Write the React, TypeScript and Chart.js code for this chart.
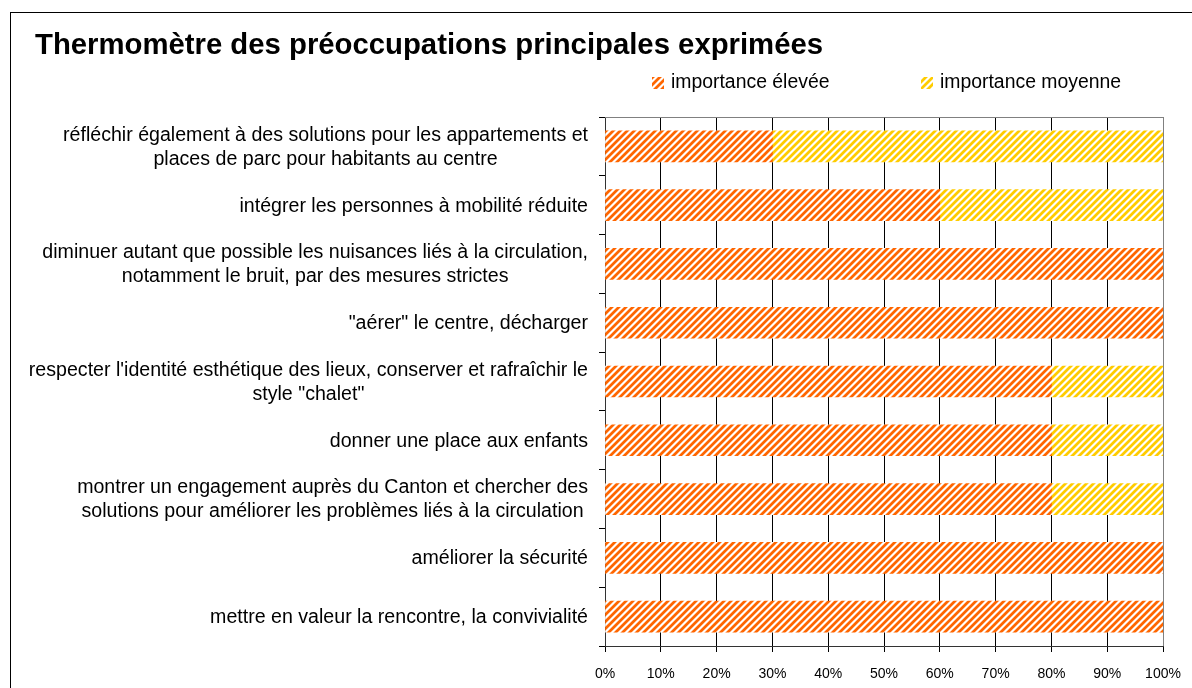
import React, { useEffect, useRef } from "react";
import { Chart, registerables } from "chart.js";

Chart.register(...registerables);

const titleText = "Thermomètre des préoccupations principales exprimées";

const categories: string[][] = [
  ["réfléchir également à des solutions pour les appartements et", "places de parc pour habitants au centre"],
  ["intégrer les personnes à mobilité réduite"],
  ["diminuer autant que possible les nuisances liés à la circulation,", "notamment le bruit, par des mesures strictes"],
  ["\"aérer\" le centre, décharger"],
  ["respecter l'identité esthétique des lieux, conserver et rafraîchir le", "style \"chalet\""],
  ["donner une place aux enfants"],
  ["montrer un engagement auprès du Canton et chercher des", "solutions pour améliorer les problèmes liés à la circulation"],
  ["améliorer la sécurité"],
  ["mettre en valeur la rencontre, la convivialité"],
];

const seriesNames = ["importance élevée", "importance moyenne"];
const highValues = [30, 60, 100, 100, 80, 80, 80, 100, 100];
const mediumValues = [70, 40, 0, 0, 20, 20, 20, 0, 0];
const xTickValues = [0, 10, 20, 30, 40, 50, 60, 70, 80, 90, 100];

const FONT = "'Liberation Sans', Arial, sans-serif";

function makePattern(fg: [number, number, number]): CanvasPattern | string {
  const size = 7;
  const c = document.createElement("canvas");
  c.width = size;
  c.height = size;
  const ctx = c.getContext("2d");
  if (!ctx) return `rgb(${fg.join(",")})`;
  const img = ctx.createImageData(size, size);
  for (let y = 0; y < size; y++) {
    for (let x = 0; x < size; x++) {
      const k = (x + y) % size;
      let t = 0;
      if (k <= 2) t = 1;
      else if (k === 3 || k === 6) t = 0.45;
      const i = (y * size + x) * 4;
      img.data[i] = Math.round(255 + (fg[0] - 255) * t);
      img.data[i + 1] = Math.round(255 + (fg[1] - 255) * t);
      img.data[i + 2] = Math.round(255 + (fg[2] - 255) * t);
      img.data[i + 3] = 255;
    }
  }
  ctx.putImageData(img, 0, 0);
  return ctx.createPattern(c, "repeat") || `rgb(${fg.join(",")})`;
}

export default function App() {
  const canvasRef = useRef<HTMLCanvasElement | null>(null);

  useEffect(() => {
    const canvas = canvasRef.current;
    if (!canvas) return;
    const orange = makePattern([255, 102, 0]);
    const yellow = makePattern([255, 204, 0]);
    const patterns = [orange, yellow];

    const decor = {
      id: "decor",
      afterDraw(chart: any) {
        const ctx = chart.ctx as CanvasRenderingContext2D;
        const area = chart.chartArea;
        const yScale = chart.scales.y;
        ctx.save();
        ctx.strokeStyle = "#000";
        ctx.lineWidth = 1;
        ctx.strokeRect(10.5, 12.5, 1300, 800);
        ctx.strokeStyle = "#808080";
        ctx.beginPath();
        ctx.moveTo(area.left, Math.round(area.top) + 0.5);
        ctx.lineTo(Math.round(area.right) + 0.5, Math.round(area.top) + 0.5);
        ctx.lineTo(Math.round(area.right) + 0.5, area.bottom);
        ctx.stroke();
        ctx.fillStyle = "#000";
        ctx.font = `bold 29.3px ${FONT}`;
        ctx.textAlign = "left";
        ctx.textBaseline = "alphabetic";
        ctx.fillText(titleText, 35, 54);
        ctx.font = `19.4px ${FONT}`;
        ctx.textBaseline = "middle";
        const legendX = [652, 921];
        seriesNames.forEach((name, i) => {
          const x = legendX[i];
          ctx.fillStyle = patterns[i] as any;
          ctx.fillRect(x, 77, 12, 12);
          ctx.fillStyle = "#000";
          ctx.fillText(name, x + 19, 83);
        });
        ctx.font = `19.6px ${FONT}`;
        ctx.fillStyle = "#000";
        ctx.textAlign = "center";
        ctx.textBaseline = "middle";
        const xRight = 588;
        const lh = 24;
        categories.forEach((lines, i) => {
          const yc = yScale.getPixelForValue(i) + 1;
          const w = Math.max(...lines.map((l) => ctx.measureText(l).width));
          lines.forEach((l, j) => {
            ctx.fillText(l, xRight - w / 2, yc + (j - (lines.length - 1) / 2) * lh);
          });
        });
        ctx.restore();
      },
    };

    const chart = new Chart(canvas, {
      type: "bar",
      data: {
        labels: categories.map((c) => c.join(" ")),
        datasets: [
          {
            label: seriesNames[0],
            data: highValues,
            backgroundColor: orange as any,
            borderWidth: 0,
            barThickness: 31,
          },
          {
            label: seriesNames[1],
            data: mediumValues,
            backgroundColor: yellow as any,
            borderWidth: 0,
            barThickness: 31,
          },
        ],
      },
      options: {
        indexAxis: "y",
        animation: false,
        responsive: true,
        maintainAspectRatio: false,
        layout: { padding: { top: 117, right: 29, left: 0, bottom: 0 } },
        plugins: {
          legend: { display: false },
          title: { display: false },
          tooltip: { enabled: false },
        },
        scales: {
          x: {
            stacked: true,
            min: 0,
            max: 100,
            afterBuildTicks: (scale: any) => {
              scale.ticks = xTickValues.map((v) => ({ value: v }));
            },
            afterFit: (scale: any) => {
              scale.height = 42;
              scale.paddingRight = 0;
              scale.paddingLeft = 0;
            },
            ticks: {
              callback: (v: any) => `${v}%`,
              color: "#000",
              font: { family: FONT, size: 14 },
              padding: 14,
              maxRotation: 0,
              autoSkip: false,
            },
            grid: {
              color: (ctx: any) => (ctx.index === xTickValues.length - 1 ? "#808080" : "#000"),
              lineWidth: 1,
              drawTicks: true,
              tickLength: 6,
              tickColor: "#000",
            },
            border: { display: true, color: "#333", width: 1 },
          },
          y: {
            stacked: true,
            afterFit: (scale: any) => {
              scale.width = 605;
            },
            ticks: { display: false },
            grid: {
              offset: true,
              drawOnChartArea: false,
              drawTicks: true,
              tickLength: 6,
              tickColor: "#000",
            },
            border: { display: true, color: "#333", width: 1 },
          },
        },
      },
      plugins: [decor],
    });
    return () => chart.destroy();
  }, []);

  return (
    <div style={{ position: "fixed", left: 0, top: 0, width: 1192, height: 688, background: "#fff" }}>
      <canvas ref={canvasRef} />
    </div>
  );
}
